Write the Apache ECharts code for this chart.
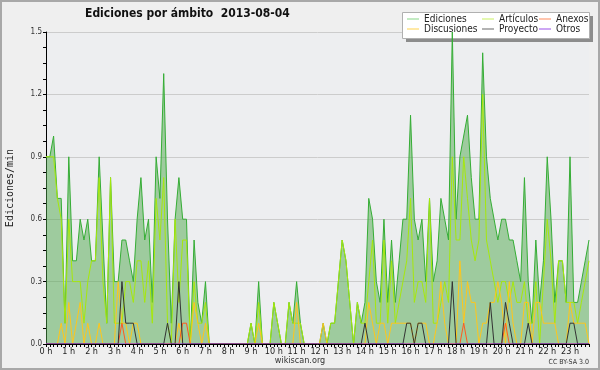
<!DOCTYPE html>
<html><head><meta charset="utf-8">
<script src="https://cdn.jsdelivr.net/npm/echarts@6/dist/echarts.min.js"></script>
<style>html,body{margin:0;padding:0;background:#efefef}#c{width:600px;height:370px}</style>
</head><body><div id="c"></div>
<script>
const hourLabels = ['0 h','1 h','2 h','3 h','4 h','5 h','6 h','7 h','8 h','9 h','10 h','11 h',
  '12 h','13 h','14 h','15 h','16 h','17 h','18 h','19 h','20 h','21 h','22 h','23 h'];

const ediciones = [
  0.9,0.9,1.0,0.7,0.7,0.1, 0.9,0.4,0.4,0.6,0.5,0.6, 0.4,0.4,0.9,0.5,0.1,0.8, 0.3,0.3,0.5,0.5,0.4,0.3,
  0.6,0.8,0.5,0.6,0.2,0.9, 0.7,1.3,0.6,0.1,0.6,0.8, 0.6,0.6,0.0,0.5,0.2,0.1, 0.3,0,0,0,0,0,
  0,0,0,0,0,0, 0.1,0,0.3,0,0,0, 0.2,0.1,0,0,0.2,0.1, 0.3,0.1,0,0,0,0,
  0,0.1,0,0.1,0.1,0.3, 0.5,0.4,0.2,0,0.2,0.1, 0.2,0.7,0.6,0.3,0.2,0.6, 0.2,0.5,0.2,0.4,0.6,0.6,
  1.1,0.6,0.5,0.6,0.3,0.7, 0.3,0.4,0.7,0.6,0.5,1.5, 0.6,0.9,1.0,1.1,0.8,0.6, 0.6,1.4,0.9,0.7,0.6,0.5,
  0.6,0.6,0.5,0.5,0.4,0.3, 0.8,0.3,0.1,0.5,0.2,0.4, 0.9,0.6,0.2,0.4,0.4,0.2, 0.9,0.2,0.2,0.3,0.4,0.5
];
const articulos = [
  0.9,0.9,0.9,0.7,0.6,0.1, 0.6,0.3,0.3,0.3,0.1,0.3, 0.4,0.4,0.8,0.3,0.1,0.8, 0.1,0.1,0.1,0.3,0.3,0.2,
  0.4,0.4,0.2,0.4,0.1,0.7, 0.5,0.8,0.1,0,0.6,0.2, 0.5,0.5,0,0.3,0.1,0.1, 0.2,0,0,0,0,0,
  0,0,0,0,0,0, 0.1,0,0.2,0,0,0, 0.2,0.1,0,0,0.2,0.1, 0.1,0.1,0,0,0,0,
  0,0,0,0.1,0.1,0.3, 0.5,0.4,0.2,0,0.2,0.1, 0.1,0.3,0.5,0.1,0.1,0.5, 0.1,0.4,0.1,0.2,0.3,0.4,
  0.7,0.2,0.3,0.3,0.2,0.7, 0.1,0.1,0.2,0.3,0.2,0.9, 0.5,0.5,0.9,0.7,0.5,0.4, 0.5,1.2,0.5,0.4,0.3,0.2,
  0.3,0.3,0.2,0.3,0.2,0.2, 0.3,0.1,0.1,0.3,0,0.3, 0.6,0.4,0.1,0.4,0.4,0.2, 0.2,0.2,0.1,0.2,0.3,0.4
];
const anexos = [
  0,0,0,0,0,0, 0,0,0,0,0,0, 0,0,0,0,0,0, 0,0,0.1,0,0,0,
  0,0,0,0,0,0, 0,0,0,0,0,0, 0.1,0.1,0,0,0,0, 0,0,0,0,0,0,
  0,0,0,0,0,0, 0,0,0,0,0,0, 0,0,0,0,0,0, 0,0,0,0,0,0,
  0,0,0,0,0,0, 0,0,0,0,0,0, 0,0,0,0,0,0, 0,0,0,0,0,0,
  0,0,0,0,0,0, 0,0,0,0,0,0, 0,0,0.1,0,0,0, 0,0,0,0,0,0,
  0,0.1,0,0,0,0, 0,0,0,0,0,0, 0,0,0,0,0,0, 0,0,0,0,0,0
];
const discusiones = [
  0,0,0,0,0.1,0, 0.2,0,0.1,0.2,0,0.1, 0,0,0.1,0,0,0, 0,0.3,0.1,0.1,0,0.1,
  0.1,0,0,0,0,0, 0,0,0,0,0,0.1, 0,0,0,0.2,0.1,0, 0.1,0,0,0,0,0,
  0,0,0,0,0,0, 0,0,0.1,0,0,0, 0,0,0,0,0,0, 0.2,0,0,0,0,0,
  0,0.1,0,0,0,0, 0,0,0,0,0,0, 0,0.2,0.1,0,0.1,0.1, 0,0.1,0.1,0.1,0.1,0.1,
  0.1,0,0.1,0.1,0.1,0, 0,0.1,0.3,0.1,0,0, 0,0.4,0.1,0.3,0.2,0.2, 0,0.1,0.1,0.2,0.2,0.3,
  0.2,0,0.3,0.1,0,0, 0.2,0.2,0,0.2,0.2,0.1, 0.1,0.1,0.1,0,0,0, 0.2,0.1,0.1,0.1,0.1,0
];
const proyecto = [
  0,0,0,0,0,0, 0,0,0,0,0,0, 0,0,0,0,0,0, 0,0,0.3,0.1,0.1,0.1,
  0,0,0,0,0,0, 0,0,0.1,0,0,0.3, 0,0,0,0,0,0, 0,0,0,0,0,0,
  0,0,0,0,0,0, 0,0,0,0,0,0, 0,0,0,0,0,0, 0,0,0,0,0,0,
  0,0,0,0,0,0, 0,0,0,0,0,0, 0.1,0,0,0,0,0, 0,0,0,0,0,0.1,
  0.1,0,0.1,0.1,0,0, 0,0,0,0,0,0.3, 0,0,0,0,0,0, 0,0,0,0.2,0,0,
  0,0.2,0.1,0,0,0, 0,0.1,0,0,0,0, 0,0,0,0,0,0, 0.1,0.1,0,0,0,0
];
const otros = [
  0,0,0,0,0,0, 0,0,0,0,0,0, 0,0,0,0,0,0, 0,0,0,0,0,0,
  0,0,0,0,0,0, 0,0,0,0,0,0, 0,0,0,0,0,0, 0,0,0,0,0,0,
  0,0,0,0,0,0, 0,0,0,0,0,0, 0,0,0,0,0,0, 0,0,0,0,0,0,
  0,0,0,0,0,0, 0,0,0,0,0,0, 0,0,0,0,0,0, 0,0,0,0,0,0,
  0,0,0,0,0,0, 0,0,0,0,0,0, 0,0,0,0,0,0, 0,0,0,0,0,0,
  0,0,0,0,0,0, 0,0,0,0,0,0, 0,0,0,0,0,0, 0,0,0,0,0,0
];

const FONT = "'DejaVu Sans Condensed','DejaVu Sans',sans-serif";
const categories = [];
hourLabels.forEach((h, k) => {
  for (let m = 0; m < 6; m++) categories.push(m === 0 ? h : (k + ':' + m + '0'));
});

function lineSeries(name, data, color, extra) {
  return Object.assign({
    name, type: 'line', data, symbol: 'none', showSymbol: false,
    lineStyle: { color, width: 1 }, itemStyle: { color },
    animation: false, silent: true
  }, extra || {});
}

const legendCommon = {
  orient: 'vertical', icon: 'rect', itemWidth: 12, itemHeight: 1, itemGap: 0, padding: 0,
  selectedMode: false, z: 10,
  textStyle: { fontFamily: FONT, fontSize: 10, color: '#222', lineHeight: 10 }
};

const chart = echarts.init(document.getElementById('c'), null, { renderer: 'canvas' });
chart.setOption({
  backgroundColor: '#efefef',
  animation: false,
  title: {
    text: 'Ediciones por ámbito  2013-08-04', left: 85, top: 8, padding: 0,
    textStyle: { fontFamily: FONT, fontSize: 12, fontWeight: 'bold', color: '#111' }
  },
  legend: [
    Object.assign({}, legendCommon, { left: 407, top: 14, data: [
      { name: 'Ediciones', itemStyle: { color: '#86d686' } },
      { name: 'Discusiones', itemStyle: { color: '#ffd24d' } } ] }),
    Object.assign({}, legendCommon, { left: 482, top: 14, data: [
      { name: 'Artículos', itemStyle: { color: '#c8f060' } },
      { name: 'Proyecto', itemStyle: { color: '#666666' } } ] }),
    Object.assign({}, legendCommon, { left: 539, top: 14, data: [
      { name: 'Anexos', itemStyle: { color: '#ff8a5c' } },
      { name: 'Otros', itemStyle: { color: '#9a4fe8' } } ] })
  ],
  grid: { left: 46, right: 11, top: 32, bottom: 26, show: true, backgroundColor: '#edeef0', borderWidth: 0,
    containLabel: false, outerBoundsMode: 'none' },
  xAxis: {
    type: 'category', data: categories, boundaryGap: false, z: 10,
    axisLine: { lineStyle: { color: '#000', width: 1 } },
    axisTick: { interval: 0, length: 3, lineStyle: { color: '#000' } },
    axisLabel: { interval: 5, margin: 3, fontFamily: FONT, fontSize: 9, color: '#222' },
    splitLine: { show: false }
  },
  yAxis: {
    type: 'value', min: 0, max: 1.5, interval: 0.3,
    axisLine: { show: true, lineStyle: { color: '#000' } },
    axisTick: { show: true, length: 3, lineStyle: { color: '#000' } },
    minorTick: { show: true, splitNumber: 4, length: 3, lineStyle: { color: '#000' } },
    axisLabel: { formatter: v => v.toFixed(1), margin: 4, fontSize: 8, fontFamily: FONT, color: '#333' },
    splitLine: { lineStyle: { color: '#cccccc' } },
    name: 'Ediciones/min', nameLocation: 'middle', nameGap: 31, nameRotate: 90,
    nameTextStyle: { fontFamily: "'DejaVu Sans Mono',monospace", fontSize: 10, color: '#222' }
  },
  series: [
    lineSeries('Ediciones', ediciones, '#35ad35', { areaStyle: { color: '#4fa84c', opacity: 0.5 } }),
    lineSeries('Artículos', articulos, '#a6e80c'),
    lineSeries('Discusiones', discusiones, '#ffc61a'),
    lineSeries('Anexos', anexos, '#ff5a1f'),
    lineSeries('Proyecto', proyecto, '#333333'),
    lineSeries('Otros', otros, '#8833ee')
  ],
  graphic: [
    { type: 'rect', z: 1, shape: { x: 1, y: 1, width: 598, height: 368 },
      style: { fill: 'none', stroke: '#a8a8a8', lineWidth: 2 } },
    { type: 'rect', z: 1, shape: { x: 406, y: 16, width: 187, height: 26 }, style: { fill: '#8c8c8c' } },
    { type: 'rect', z: 2, shape: { x: 402.5, y: 12.5, width: 187, height: 26 },
      style: { fill: '#ffffff', stroke: '#b0b0b0', lineWidth: 1 } },
    { type: 'text', z: 2, x: 300, y: 361,
      style: { text: 'wikiscan.org', textAlign: 'center', textVerticalAlign: 'middle',
        font: "9px 'DejaVu Sans Condensed','DejaVu Sans',sans-serif", fill: '#333' } },
    { type: 'text', z: 2, x: 589, y: 362,
      style: { text: 'CC BY-SA 3.0', textAlign: 'right', textVerticalAlign: 'middle',
        font: "7px 'DejaVu Sans Condensed','DejaVu Sans',sans-serif", fill: '#333' } }
  ]
});
</script></body></html>
